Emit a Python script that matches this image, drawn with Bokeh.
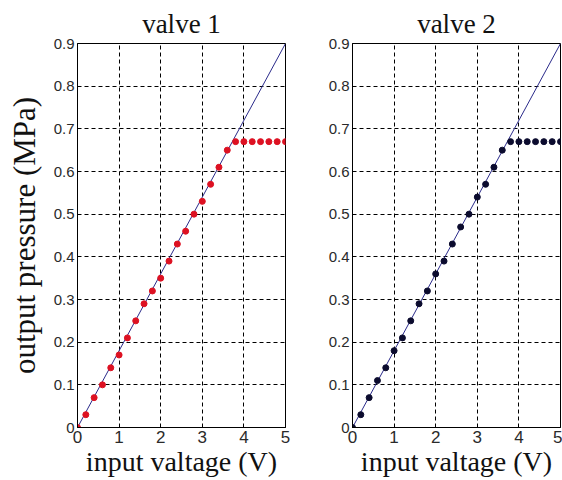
from bokeh.plotting import figure
from bokeh.layouts import row
from bokeh.models import FixedTicker, Range1d
from bokeh.embed import file_html
from bokeh.resources import INLINE

voltage = [0.0, 0.2, 0.4, 0.6, 0.8, 1.0, 1.2, 1.4, 1.6, 1.8, 2.0, 2.2, 2.4,
           2.6, 2.8, 3.0, 3.2, 3.4, 3.6, 3.8, 4.0, 4.2, 4.4, 4.6, 4.8, 5.0]
valve1_pressure = [0.0, 0.03, 0.07, 0.10, 0.14, 0.17, 0.21, 0.25, 0.29, 0.32, 0.35, 0.39, 0.43,
                   0.46, 0.50, 0.53, 0.57, 0.61, 0.65, 0.67, 0.67, 0.67, 0.67, 0.67, 0.67, 0.67]
valve2_pressure = [0.0, 0.03, 0.07, 0.11, 0.14, 0.18, 0.21, 0.25, 0.29, 0.32, 0.36, 0.39, 0.43,
                   0.47, 0.50, 0.54, 0.57, 0.61, 0.65, 0.67, 0.67, 0.67, 0.67, 0.67, 0.67, 0.67]
fit_x = [0.0, 5.0]
fit_y = [0.0, 0.9]
x_ticks = [0, 1, 2, 3, 4, 5]
y_ticks = [0, 0.1, 0.2, 0.3, 0.4, 0.5, 0.6, 0.7, 0.8, 0.9]
y_tick_labels = ["0", "0.1", "0.2", "0.3", "0.4", "0.5", "0.6", "0.7", "0.8", "0.9"]

SERIF = "Liberation Serif"
SANS = "Liberation Sans"


def make_panel(title, pressure, color, width, left, right, ylabel):
    p = figure(width=width, height=480, output_backend="svg", toolbar_location=None,
               x_range=Range1d(0, 5), y_range=Range1d(0, 0.9),
               min_border_left=left, min_border_right=right,
               min_border_top=43, min_border_bottom=53)
    p.title.text = title
    p.title.align = "center"
    p.title.text_font = SERIF
    p.title.text_font_size = "27px"
    p.title.text_font_style = "normal"
    p.title.text_color = "#111111"

    p.line(fit_x, fit_y, line_color="#2a2a8a", line_width=1)
    p.scatter(voltage, pressure, size=6, fill_color=color, line_color=color)

    p.xaxis.ticker = FixedTicker(ticks=x_ticks)
    p.yaxis.ticker = FixedTicker(ticks=y_ticks)
    p.yaxis.major_label_overrides = {t: s for t, s in zip(y_ticks, y_tick_labels)}
    for ax in (p.xaxis, p.yaxis):
        ax.axis_line_color = "black"
        ax.major_tick_in = 3
        ax.major_tick_out = 0
        ax.minor_tick_line_color = None
        ax.major_label_text_font = SANS
        ax.major_label_text_color = "#2a2a2a"
        ax.axis_label_text_font = SERIF
        ax.axis_label_text_font_style = "normal"
        ax.axis_label_text_color = "#111111"
    p.xaxis.major_label_text_font_size = "17px"
    p.yaxis.major_label_text_font_size = "15px"
    p.xaxis.major_label_standoff = 3
    p.yaxis.major_label_standoff = 3
    p.xaxis.axis_label = "input valtage (V)"
    p.xaxis.axis_label_text_font_size = "28px"
    p.xaxis.axis_label_standoff = 0
    if ylabel:
        p.yaxis.axis_label = ylabel
        p.yaxis.axis_label_text_font_size = "31px"
        p.yaxis.axis_label_standoff = 9

    for g in (p.xgrid, p.ygrid):
        g.grid_line_color = "black"
        g.grid_line_dash = "4 3"
        g.grid_line_width = 1
    p.outline_line_color = "black"
    p.outline_line_width = 1
    p.background_fill_color = "white"
    p.border_fill_color = "white"
    return p


p1 = make_panel("valve 1", valve1_pressure, "#dd1122", 300, 77, 15, "output pressure (MPa)")
p2 = make_panel("valve 2", valve2_pressure, "#0b0b2e", 262, 52, 2, None)
layout = row(p1, p2, spacing=0)

open("out.html", "w").write(file_html(layout, INLINE))
